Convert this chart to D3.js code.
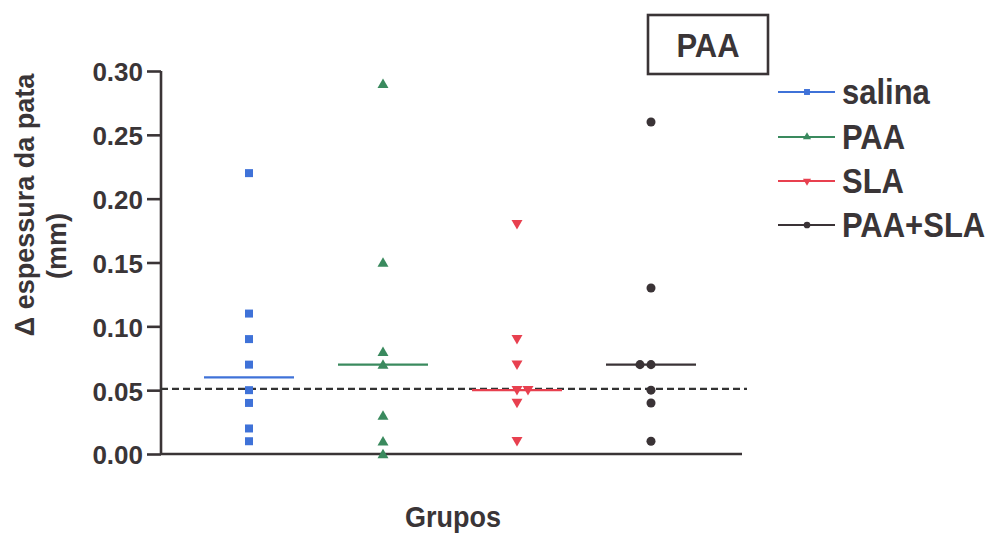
<!DOCTYPE html>
<html>
<head>
<meta charset="utf-8">
<script src="https://cdn.jsdelivr.net/npm/d3@7"></script>
<style>
  body { margin: 0; background: #fff; }
  svg text { font-family: "Liberation Sans", Arial, sans-serif; font-weight: bold; fill: #3a3537; }
</style>
</head>
<body>
<div id="chart"></div>
<script>
// groups and values
const groups = ["salina", "PAA", "SLA", "PAA+SLA"];
const salina = [0.22, 0.11, 0.09, 0.07, 0.05, 0.04, 0.02, 0.01];
const paa = [0.29, 0.15, 0.08, 0.07, 0.03, 0.01, 0.00];
const sla = [0.18, 0.09, 0.07, 0.05, 0.05, 0.04, 0.01];
const paaSla = [0.26, 0.13, 0.07, 0.07, 0.05, 0.04, 0.01];
const seriesValues = [salina, paa, sla, paaSla];
const yTicks = [0.00, 0.05, 0.10, 0.15, 0.20, 0.25, 0.30];
const referenceLine = 0.051;
const dodgeDir = [1, 1, 1, -1];

const colors = ["#3f72d8", "#3a8a5e", "#e8404f", "#3a3336"];
const shapes = [d3.symbolSquare, d3.symbolTriangle, d3.symbolTriangle, d3.symbolCircle];
const rotations = [0, 0, 180, 0];
const sizes = [64, 52, 52, 64];
const axisColor = "#3a3436";

const W = 993, H = 534;
const svg = d3.select("#chart").append("svg")
    .attr("width", W)
    .attr("height", H);

const y = d3.scaleLinear().domain([0, 0.30]).range([454, 71]);
const x = d3.scalePoint().domain(groups).range([182, 718]).padding(0.5);
const axisLeftX = 161, axisRightX = 742;

// y axis
const yAxis = svg.append("g")
    .attr("transform", `translate(${axisLeftX},0)`)
    .call(d3.axisLeft(y).tickValues(yTicks).tickFormat(d3.format(".2f")).tickSize(14).tickPadding(4));
yAxis.select(".domain").attr("stroke", axisColor).attr("stroke-width", 2.6).attr("d", `M0,${y(0.30)}V${y(0)}`);
yAxis.selectAll(".tick line").attr("stroke", axisColor).attr("stroke-width", 2.6);
yAxis.selectAll(".tick text")
    .attr("font-size", 26)
    .attr("dy", "0.38em")
    .style("font-family", "'Liberation Sans', Arial, sans-serif")
    .style("font-weight", "bold")
    .attr("fill", "#3a3537");

// x axis line (no ticks)
svg.append("line")
    .attr("x1", axisLeftX).attr("x2", axisRightX)
    .attr("y1", y(0)).attr("y2", y(0))
    .attr("stroke", axisColor).attr("stroke-width", 2.6);

// dashed reference line
svg.append("line")
    .attr("x1", axisLeftX).attr("x2", 747)
    .attr("y1", y(referenceLine)).attr("y2", y(referenceLine))
    .attr("stroke", "#333").attr("stroke-width", 2.4)
    .attr("stroke-dasharray", "7,4");

// median lines
groups.forEach((g, i) => {
    const m = d3.median(seriesValues[i]);
    svg.append("line")
        .attr("x1", x(g) - 45).attr("x2", x(g) + 45)
        .attr("y1", y(m)).attr("y2", y(m))
        .attr("stroke", colors[i]).attr("stroke-width", 2.2);
});

// points, duplicates nudged sideways
groups.forEach((g, i) => {
    const seen = {};
    seriesValues[i].forEach(v => {
        const k = v.toFixed(3);
        const n = seen[k] || 0;
        seen[k] = n + 1;
        const px = x(g) + n * 11 * dodgeDir[i];
        svg.append("path")
            .attr("d", d3.symbol().type(shapes[i]).size(sizes[i])())
            .attr("transform", `translate(${px},${y(v) + (i === 1 ? 1 : i === 2 ? -1 : 0)}) rotate(${rotations[i]})`)
            .attr("fill", colors[i]);
    });
});

// axis titles
svg.append("text")
    .attr("transform", "translate(34,205) rotate(-90)")
    .attr("text-anchor", "middle")
    .attr("font-size", 27)
    .text("\u0394 espessura da pata");
svg.append("text")
    .attr("transform", "translate(66,246) rotate(-90)")
    .attr("text-anchor", "middle")
    .attr("font-size", 27)
    .text("(mm)");
svg.append("text")
    .attr("transform", "translate(453,527) scale(1,1.1)")
    .attr("text-anchor", "middle")
    .attr("font-size", 27)
    .text("Grupos");

// title box
svg.append("rect")
    .attr("x", 648).attr("y", 15)
    .attr("width", 120).attr("height", 59)
    .attr("fill", "none").attr("stroke", axisColor).attr("stroke-width", 2.6);
svg.append("text")
    .attr("transform", "translate(708,57) scale(1,1.1)")
    .attr("text-anchor", "middle")
    .attr("font-size", 31)
    .text("PAA");

// legend
const legendY = [92, 137, 181, 225];
const legend = svg.append("g");
groups.forEach((g, i) => {
    const ly = legendY[i];
    legend.append("line")
        .attr("x1", 778).attr("x2", 835)
        .attr("y1", ly).attr("y2", ly)
        .attr("stroke", colors[i]).attr("stroke-width", 2);
    legend.append("path")
        .attr("d", d3.symbol().type(shapes[i]).size(sizes[i] * 0.55)())
        .attr("transform", `translate(807,${ly}) rotate(${rotations[i]})`)
        .attr("fill", colors[i]);
    legend.append("text")
        .attr("transform", `translate(842,${ly + 12}) scale(1,1.15)`)
        .attr("font-size", 31)
        .text(g);
});
</script>
</body>
</html>
